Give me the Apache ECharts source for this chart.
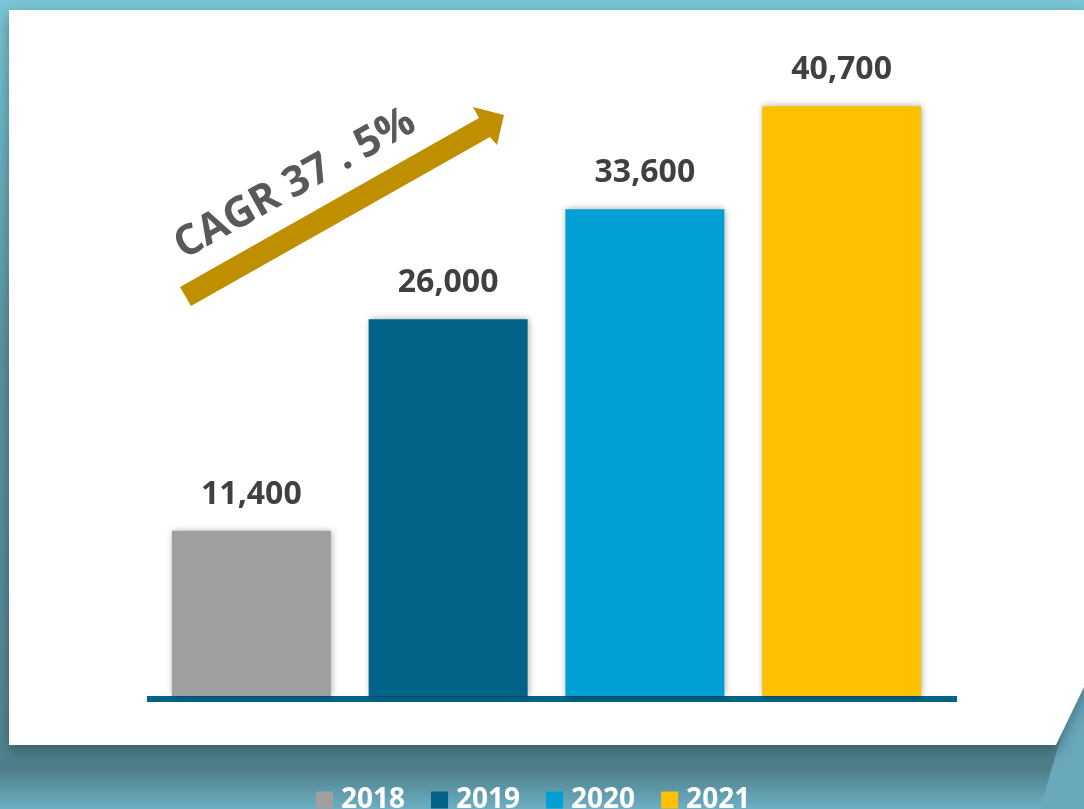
<!DOCTYPE html>
<html>
<head>
<meta charset="utf-8">
<script src="https://cdn.jsdelivr.net/npm/echarts@6/dist/echarts.min.js"></script>
<style>
  html, body { margin: 0; padding: 0; }
  #chart { width: 1084px; height: 809px; }
</style>
</head>
<body>
<div id="chart"></div>
<script>
const years = ['2018', '2019', '2020', '2021'];
const revenue = [11400, 26000, 33600, 40700];
const barColors = ['#a0a0a0', '#006387', '#00a0d7', '#ffc000'];
const cagrText = 'CAGR 37 . 5%';

const chart = echarts.init(document.getElementById('chart'));

// one series per year so the legend shows each year; stacked so bars stay centred
const series = years.map((y, i) => ({
  name: y,
  type: 'bar',
  stack: 'all',
  barWidth: 159,
  data: years.map((_, j) => (j === i ? revenue[i] : '-')),
  itemStyle: {
    color: barColors[i],
    shadowColor: 'rgba(0,0,0,0.35)',
    shadowBlur: 7,
    shadowOffsetX: 1,
  },
  label: {
    show: true,
    position: 'top',
    distance: 20,
    color: '#404040',
    fontFamily: 'Open Sans',
    fontWeight: 'bold',
    fontSize: 32,
    formatter: (p) => p.value.toLocaleString('en-US'),
  },
}));

// baseline drawn by a second, wider grid
series.push({
  type: 'bar',
  xAxisIndex: 1,
  yAxisIndex: 1,
  data: [],
});

chart.setOption({
  backgroundColor: {
    type: 'linear', x: 0, y: 0, x2: 0, y2: 1,
    colorStops: [
      { offset: 0, color: '#79c6d5' },
      { offset: 0.45, color: '#5b939f' },
      { offset: 0.92, color: '#52858f' },
      { offset: 0.95, color: '#4e7d89' },
      { offset: 1, color: '#6db0c3' },
    ],
  },
  graphic: [
    {
      type: 'polygon',
      z: -10,
      shape: { points: [[1084, 660], [1084, 809], [1040, 809], [1060, 740]] },
      style: { fill: '#6aa8bc' },
    },
    {
      type: 'polygon',
      z: -5,
      shape: { points: [[9, 10], [1084, 10], [1084, 687], [1056, 745], [9, 745]] },
      style: {
        fill: '#ffffff',
        shadowColor: 'rgba(30,60,70,0.5)',
        shadowBlur: 14,
        shadowOffsetY: 6,
      },
    },
    {
      type: 'polygon',
      z: 50,
      shape: {
        points: [[180, 287], [191, 306], [490, 137], [497, 145], [504, 115], [473, 107], [479, 118]],
      },
      style: { fill: '#bf8f00' },
    },
    {
      type: 'text',
      z: 50,
      x: 295,
      y: 184,
      rotation: (29 * Math.PI) / 180,
      style: {
        text: cagrText,
        fill: '#595959',
        font: 'bold 42px "Open Sans"',
        textAlign: 'center',
        textVerticalAlign: 'middle',
      },
    },
  ],
  legend: {
    data: years,
    left: 311,
    top: 781,
    icon: 'rect',
    itemWidth: 17,
    itemHeight: 17,
    itemGap: 26,
    textStyle: {
      color: '#ffffff',
      fontFamily: 'Open Sans',
      fontWeight: 'bold',
      fontSize: 28,
      padding: [0, 0, 0, 3],
    },
  },
  grid: [
    { left: 153, width: 787, top: 44, bottom: 113 },
    { left: 147, width: 810, top: 44, bottom: 110 },
  ],
  xAxis: [
    {
      type: 'category',
      data: years,
      axisLine: { show: false },
      axisTick: { show: false },
      axisLabel: { show: false },
    },
    {
      type: 'category',
      gridIndex: 1,
      data: years,
      axisLine: { show: true, lineStyle: { color: '#006386', width: 6, cap: 'butt' } },
      axisTick: { show: false },
      axisLabel: { show: false },
      z: 1,
    },
  ],
  yAxis: [
    { type: 'value', min: 0, max: 45000, show: false },
    { type: 'value', gridIndex: 1, min: 0, max: 45000, show: false },
  ],
  series: series,
});
</script>
</body>
</html>
